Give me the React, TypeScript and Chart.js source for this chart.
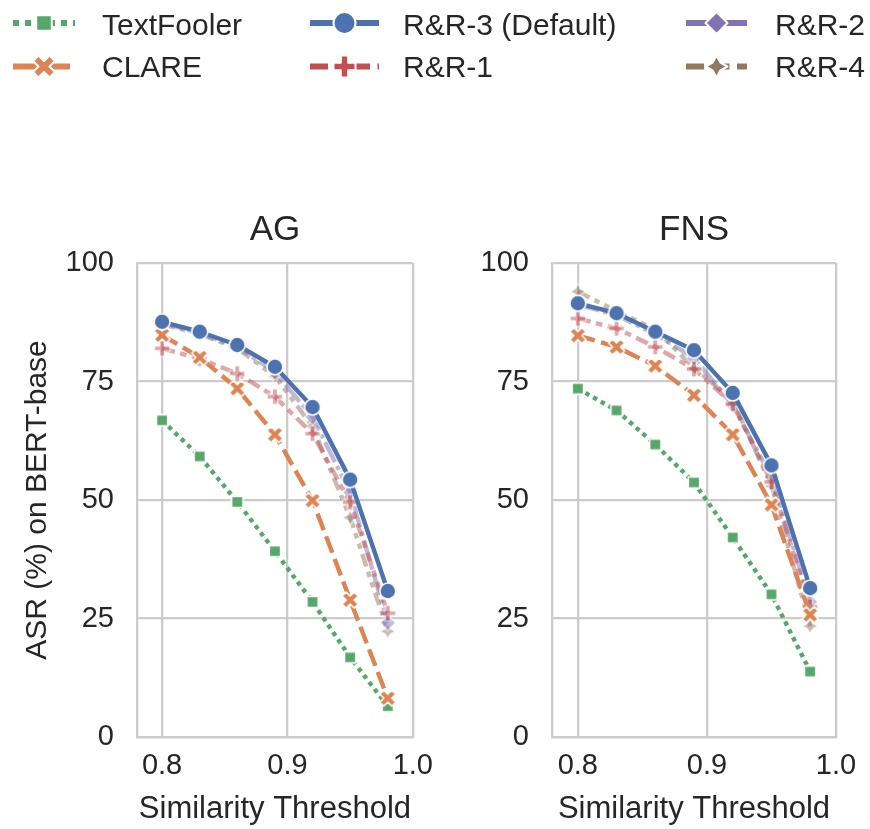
import React, { useEffect, useRef } from 'react';
import { Chart, registerables } from 'chart.js';

Chart.register(...registerables);

// ---------------- data ----------------
const X_VALUES = [0.8, 0.83, 0.86, 0.89, 0.92, 0.95, 0.98];
const X_TICKS = [0.8, 0.9, 1.0];
const X_TICK_LABELS = ['0.8', '0.9', '1.0'];
const Y_TICKS = [0, 25, 50, 75, 100];
const Y_TICK_LABELS = ['0', '25', '50', '75', '100'];

const SERIES_NAMES = ['TextFooler', 'CLARE', 'R&R-3 (Default)', 'R&R-1', 'R&R-2', 'R&R-4'];

const AG_TEXTFOOLER = [66.8, 59.2, 49.6, 39.2, 28.5, 16.8, 6.5];
const AG_CLARE = [84.8, 80.1, 73.5, 63.8, 49.9, 28.9, 8.2];
const AG_RR3 = [87.6, 85.5, 82.7, 78.1, 69.6, 54.3, 30.8];
const AG_RR1 = [82.0, 79.8, 76.7, 71.8, 64.0, 49.5, 26.1];
const AG_RR2 = [87.4, 85.2, 82.3, 77.0, 67.5, 51.6, 24.1];
const AG_RR4 = [87.1, 85.0, 82.0, 76.1, 65.5, 46.3, 22.3];

const FNS_TEXTFOOLER = [73.5, 68.9, 61.7, 53.7, 42.1, 30.1, 13.8];
const FNS_CLARE = [84.7, 82.3, 78.3, 72.1, 63.8, 49.0, 25.8];
const FNS_RR3 = [91.5, 89.4, 85.5, 81.6, 72.6, 57.3, 31.4];
const FNS_RR1 = [88.3, 86.2, 82.3, 77.6, 70.3, 53.8, 27.5];
const FNS_RR2 = [91.2, 89.0, 85.0, 80.0, 70.0, 54.8, 28.5];
const FNS_RR4 = [94.0, 89.8, 86.0, 77.9, 71.0, 53.0, 23.4];

const AG_SERIES = [AG_TEXTFOOLER, AG_CLARE, AG_RR3, AG_RR1, AG_RR2, AG_RR4];
const FNS_SERIES = [FNS_TEXTFOOLER, FNS_CLARE, FNS_RR3, FNS_RR1, FNS_RR2, FNS_RR4];

// ---------------- styles ----------------
type Shape = 'square' | 'x' | 'circle' | 'plus' | 'diamond' | 'star4';

const STYLES: { color: string; alpha: number; dash: number[]; legendDash: number[]; shape: Shape; order: number }[] = [
  { color: '#55A868', alpha: 1, dash: [1, 1], legendDash: [1, 1], shape: 'square', order: 2 },
  { color: '#DD8452', alpha: 1, dash: [4, 1.5], legendDash: [4, 1.5], shape: 'x', order: 1 },
  { color: '#4C72B0', alpha: 1, dash: [], legendDash: [], shape: 'circle', order: 0 },
  { color: '#C44E52', alpha: 0.5, dash: [3, 1.25, 1.5, 1.25], legendDash: [3, 1.25, 1.5, 1.25], shape: 'plus', order: 3 },
  { color: '#8172B3', alpha: 0.5, dash: [5, 1, 1, 1], legendDash: [], shape: 'diamond', order: 4 },
  { color: '#937860', alpha: 0.5, dash: [3, 1.25, 1.25, 1.25, 1.25, 1.25], legendDash: [3, 1.25], shape: 'star4', order: 5 },
];

const FONT_FAMILY = '"Liberation Sans", Arial, Helvetica, sans-serif';
const TEXT_COLOR = '#262626';
const GRID_COLOR = '#cccccc';
const LINE_W = 4.4;
const MARKER_S = 16;
const MARKER_EDGE = 1.6;

const X_PTS = [[-1, -2], [0, -1], [1, -2], [2, -1], [1, 0], [2, 1], [1, 2], [0, 1], [-1, 2], [-2, 1], [-1, 0], [-2, -1]];
const P_PTS = [[-1, -3], [1, -3], [1, -1], [3, -1], [3, 1], [1, 1], [1, 3], [-1, 3], [-1, 1], [-3, 1], [-3, -1], [-1, -1]];

function hexToRgba(hex: string, a: number) {
  const r = parseInt(hex.slice(1, 3), 16);
  const g = parseInt(hex.slice(3, 5), 16);
  const b = parseInt(hex.slice(5, 7), 16);
  return `rgba(${r},${g},${b},${a})`;
}

function shapePath(ctx: CanvasRenderingContext2D, shape: Shape, cx: number, cy: number, s: number) {
  const h = s / 2;
  ctx.beginPath();
  const poly = (pts: number[][], k: number) => {
    pts.forEach((p, i) => {
      const px = cx + p[0] * k;
      const py = cy + p[1] * k;
      if (i === 0) ctx.moveTo(px, py);
      else ctx.lineTo(px, py);
    });
    ctx.closePath();
  };
  switch (shape) {
    case 'circle':
      ctx.arc(cx, cy, h, 0, Math.PI * 2);
      break;
    case 'square': {
      const a = h * Math.SQRT1_2;
      ctx.rect(cx - a, cy - a, 2 * a, 2 * a);
      break;
    }
    case 'diamond':
      ctx.moveTo(cx, cy - h);
      ctx.lineTo(cx + h, cy);
      ctx.lineTo(cx, cy + h);
      ctx.lineTo(cx - h, cy);
      ctx.closePath();
      break;
    case 'star4': {
      for (let k = 0; k < 8; k++) {
        const ang = -Math.PI / 2 + (k * Math.PI) / 4;
        const r = k % 2 === 0 ? h : h * 0.5;
        const px = cx + Math.cos(ang) * r;
        const py = cy + Math.sin(ang) * r;
        if (k === 0) ctx.moveTo(px, py);
        else ctx.lineTo(px, py);
      }
      ctx.closePath();
      break;
    }
    case 'x':
      poly(X_PTS, s / 4);
      break;
    case 'plus':
      poly(P_PTS, s / 6);
      break;
  }
}

function drawShape(ctx: CanvasRenderingContext2D, shape: Shape, cx: number, cy: number, s: number, fill: string, edge: number) {
  shapePath(ctx, shape, cx, cy, s);
  ctx.fillStyle = fill;
  ctx.fill();
  ctx.lineWidth = edge;
  ctx.lineJoin = 'round';
  ctx.strokeStyle = '#ffffff';
  ctx.setLineDash([]);
  ctx.stroke();
}

function makeMarker(shape: Shape, color: string, alpha: number): HTMLCanvasElement {
  const size = Math.ceil(MARKER_S + MARKER_EDGE * 2 + 2);
  const base = document.createElement('canvas');
  base.width = size;
  base.height = size;
  const bctx = base.getContext('2d')!;
  drawShape(bctx, shape, size / 2, size / 2, MARKER_S, color, MARKER_EDGE);
  if (alpha >= 1) return base;
  const out = document.createElement('canvas');
  out.width = size;
  out.height = size;
  const octx = out.getContext('2d')!;
  octx.globalAlpha = alpha;
  octx.drawImage(base, 0, 0);
  return out;
}

// ---------------- legend ----------------
const LEGEND_LINE_X0 = [13, 310, 686];
const LEGEND_LINE_X1 = [75, 379, 747];
const LEGEND_TEXT_X = [102, 403, 775];
const LEGEND_ROW_Y = [23, 66.5];
const LEGEND_TEXT_BASE = [34.5, 77];

function drawLegend(canvas: HTMLCanvasElement) {
  const ctx = canvas.getContext('2d')!;
  ctx.clearRect(0, 0, canvas.width, canvas.height);
  const lw = 6;
  SERIES_NAMES.forEach((name, i) => {
    const col = Math.floor(i / 2);
    const row = i % 2;
    const st = STYLES[i];
    const y = LEGEND_ROW_Y[row];
    ctx.save();
    ctx.strokeStyle = st.color;
    ctx.lineWidth = lw;
    ctx.lineCap = 'butt';
    ctx.setLineDash(st.legendDash.map((d) => d * lw));
    ctx.beginPath();
    ctx.moveTo(LEGEND_LINE_X0[col], y);
    ctx.lineTo(LEGEND_LINE_X1[col], y);
    ctx.stroke();
    ctx.restore();
    ctx.save();
    drawShape(ctx, st.shape, (LEGEND_LINE_X0[col] + LEGEND_LINE_X1[col]) / 2, y, 22, st.color, 2);
    ctx.restore();
    ctx.fillStyle = TEXT_COLOR;
    ctx.font = `30px ${FONT_FAMILY}`;
    ctx.textBaseline = 'alphabetic';
    ctx.textAlign = 'left';
    ctx.fillText(name, LEGEND_TEXT_X[col], LEGEND_TEXT_BASE[row]);
  });
}

// centre the panel title over the plotting area (as matplotlib does)
const centerTitlePlugin = {
  id: 'centerTitle',
  afterLayout(chart: any) {
    const tb = chart.titleBlock;
    if (tb) {
      tb.left = chart.chartArea.left;
      tb.right = chart.chartArea.right;
      tb.width = tb.right - tb.left;
    }
  },
};

// ---------------- panels ----------------
function panelConfig(title: string, series: number[][], showYTitle: boolean, yWidth: number, rightPad: number): any {
  const datasets = SERIES_NAMES.map((name, i) => {
    const st = STYLES[i];
    return {
      label: name,
      data: X_VALUES.map((x, j) => ({ x, y: series[i][j] })),
      borderColor: hexToRgba(st.color, st.alpha),
      backgroundColor: hexToRgba(st.color, st.alpha),
      borderWidth: LINE_W,
      borderDash: st.dash.map((d) => d * LINE_W),
      borderCapStyle: 'butt',
      borderJoinStyle: 'round',
      pointStyle: makeMarker(st.shape, st.color, st.alpha),
      pointRadius: 8,
      pointHoverRadius: 8,
      fill: false,
      tension: 0,
      order: st.order,
    };
  });
  return {
    type: 'line',
    data: { datasets },
    plugins: [centerTitlePlugin],
    options: {
      animation: false,
      responsive: false,
      maintainAspectRatio: false,
      events: [],
      layout: { padding: { left: 0, right: rightPad, top: 0, bottom: 0 } },
      plugins: {
        legend: { display: false },
        tooltip: { enabled: false },
        title: {
          display: true,
          text: title,
          color: TEXT_COLOR,
          font: { size: 35, family: FONT_FAMILY, weight: 'normal', lineHeight: 1.2 },
          padding: { top: 99, bottom: 12 },
        },
      },
      scales: {
        x: {
          type: 'linear',
          min: 0.78,
          max: 1.0,
          afterBuildTicks: (s: any) => {
            s.ticks = X_TICKS.map((v) => ({ value: v }));
          },
          afterFit: (s: any) => {
            s.height = 92;
          },
          ticks: {
            callback: (_v: any, idx: number) => X_TICK_LABELS[idx],
            color: TEXT_COLOR,
            font: { size: 29, family: FONT_FAMILY, lineHeight: 1.2 },
            padding: 12,
            maxRotation: 0,
            autoSkip: false,
          },
          grid: { color: GRID_COLOR, lineWidth: 2.3, drawTicks: false },
          border: { display: true, color: GRID_COLOR, width: 2.3 },
          title: {
            display: true,
            text: 'Similarity Threshold',
            color: TEXT_COLOR,
            font: { size: 31, family: FONT_FAMILY, lineHeight: 1.2 },
            padding: { top: 0, bottom: 1 },
          },
        },
        y: {
          type: 'linear',
          min: 0,
          max: 100,
          afterBuildTicks: (s: any) => {
            s.ticks = Y_TICKS.map((v) => ({ value: v }));
          },
          afterFit: (s: any) => {
            s.width = yWidth;
          },
          ticks: {
            callback: (_v: any, idx: number) => Y_TICK_LABELS[idx],
            color: TEXT_COLOR,
            font: { size: 29, family: FONT_FAMILY, lineHeight: 1.2 },
            padding: 23,
            autoSkip: false,
          },
          grid: { color: GRID_COLOR, lineWidth: 2.3, drawTicks: false },
          border: { display: true, color: GRID_COLOR, width: 2.3 },
          title: {
            display: showYTitle,
            text: 'ASR (%) on BERT-base',
            color: TEXT_COLOR,
            font: { size: 30, family: FONT_FAMILY, lineHeight: 1.2 },
            padding: { top: 20, bottom: 0 },
          },
        },
      },
    },
  };
}

export default function App() {
  const legendRef = useRef<HTMLCanvasElement>(null);
  const agRef = useRef<HTMLCanvasElement>(null);
  const fnsRef = useRef<HTMLCanvasElement>(null);

  useEffect(() => {
    if (legendRef.current) drawLegend(legendRef.current);
    const c1 = new Chart(agRef.current!, panelConfig('AG', AG_SERIES, true, 137, 23));
    const c2 = new Chart(fnsRef.current!, panelConfig('FNS', FNS_SERIES, false, 107, 34));
    return () => {
      c1.destroy();
      c2.destroy();
    };
  }, []);

  return (
    <div style={{ position: 'absolute', left: 0, top: 0, width: 870, height: 829, background: '#ffffff', overflow: 'hidden' }}>
      <canvas ref={legendRef} width={870} height={110} style={{ position: 'absolute', left: 0, top: 0, width: 870, height: 110 }} />
      <canvas ref={agRef} width={445} height={719} style={{ position: 'absolute', left: 0, top: 110, width: 445, height: 719 }} />
      <canvas ref={fnsRef} width={425} height={719} style={{ position: 'absolute', left: 445, top: 110, width: 425, height: 719 }} />
    </div>
  );
}
